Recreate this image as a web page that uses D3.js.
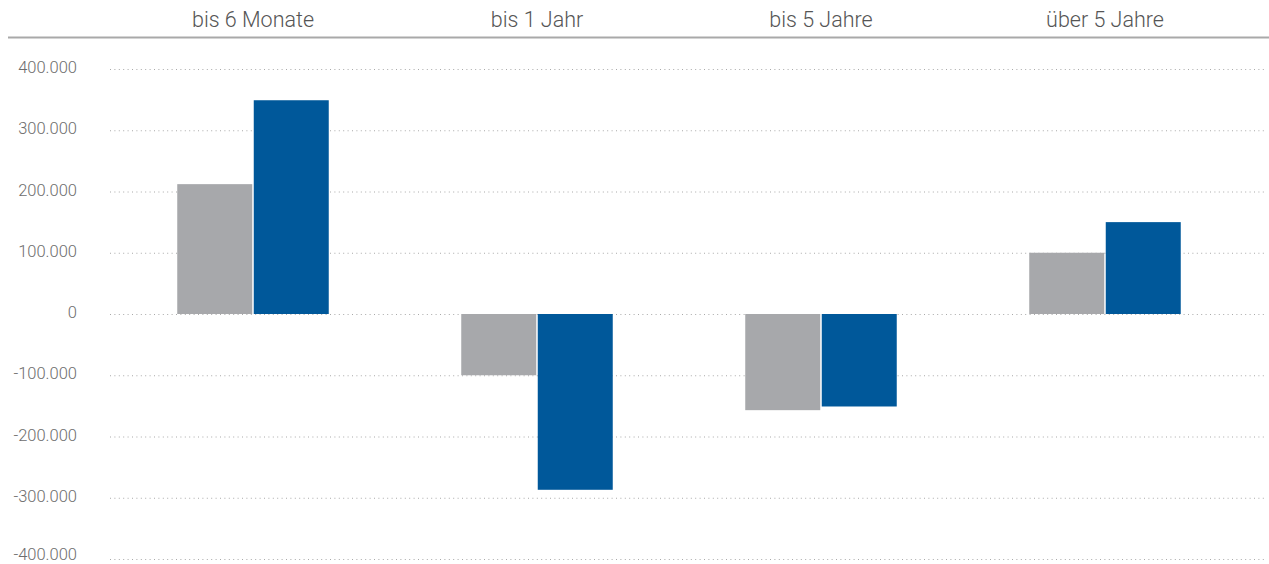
<!DOCTYPE html>
<html>
<head>
  <meta charset="utf-8">
  <title>Laufzeiten</title>
  <style>
    body { margin: 0; background: #fff; }
    svg text { font-family: Roboto, "Open Sans", sans-serif; font-weight: 300; }
  </style>
</head>
<body>
  <svg width="1269" height="564" class="chart"></svg>

  <script src="https://d3js.org/d3.v7.min.js"></script>
  <script type="text/javascript">

  // data
  var categories = ["bis 6 Monate", "bis 1 Jahr", "bis 5 Jahre", "über 5 Jahre"];
  var seriesGray = [212000, -100000, -157000, 100000];
  var seriesBlue = [349000, -287000, -151000, 150000];
  var yTicks = [400000, 300000, 200000, 100000, 0, -100000, -200000, -300000, -400000];

  var colors = ["#a7a8ab", "#00589a"];

  var de = d3.formatLocale({decimal: ",", thousands: ".", grouping: [3], currency: ["", " €"], minus: "-"});
  var fmt = de.format(",d");

  var svg = d3.select(".chart");

  var x = d3.scaleBand().domain(categories).range([111, 1247]);
  var y = d3.scaleLinear().domain([-400000, 400000]).range([559, 69]);

  var barW = 75, gap = 1.5;

  // header line under category labels
  svg.append("line")
    .attr("x1", 8).attr("x2", 1269)
    .attr("y1", 37.5).attr("y2", 37.5)
    .style("stroke", "#a9a9a9").style("stroke-width", 2);

  // category labels
  svg.selectAll(".cat")
    .data(categories)
    .enter().append("text")
    .attr("class", "cat")
    .attr("x", function(d) { return x(d) + x.bandwidth() / 2; })
    .attr("y", 27)
    .attr("text-anchor", "middle")
    .style("font-size", "21.5px")
    .style("fill", "#555")
    .text(function(d) { return d; });

  // y axis with dotted gridlines
  var yAxis = d3.axisLeft(y)
    .tickValues(yTicks)
    .tickSize(-(1266 - 110))
    .tickPadding(33)
    .tickFormat(fmt);

  var g = svg.append("g")
    .attr("transform", "translate(110,0)")
    .call(yAxis);

  g.select(".domain").remove();
  g.selectAll(".tick line")
    .style("stroke", "#a9a9a9")
    .style("stroke-width", 1)
    .style("stroke-dasharray", "1,3.4");
  g.selectAll(".tick text")
    .attr("dy", function(d) { return d === -400000 ? "0.05em" : "0.22em"; })
    .style("font-size", "16.5px")
    .style("fill", "#6d6d6d")
    .style("font-family", "Roboto, sans-serif")
    .style("font-weight", 300);

  // bars
  var rows = categories.map(function(c, i) {
    return {cat: c, vals: [seriesGray[i], seriesBlue[i]]};
  });

  var groups = svg.selectAll(".grp")
    .data(rows)
    .enter().append("g")
    .attr("class", "grp")
    .attr("transform", function(d) { return "translate(" + (x(d.cat) + x.bandwidth() / 2) + ",0)"; });

  groups.selectAll("rect")
    .data(function(d) { return d.vals; })
    .enter().append("rect")
    .attr("x", function(d, i) { return i === 0 ? -barW - gap / 2 : gap / 2; })
    .attr("width", barW)
    .attr("y", function(d) { return y(Math.max(0, d)); })
    .attr("height", function(d) { return Math.abs(y(d) - y(0)); })
    .style("fill", function(d, i) { return colors[i]; });

  </script>
</body>
</html>
